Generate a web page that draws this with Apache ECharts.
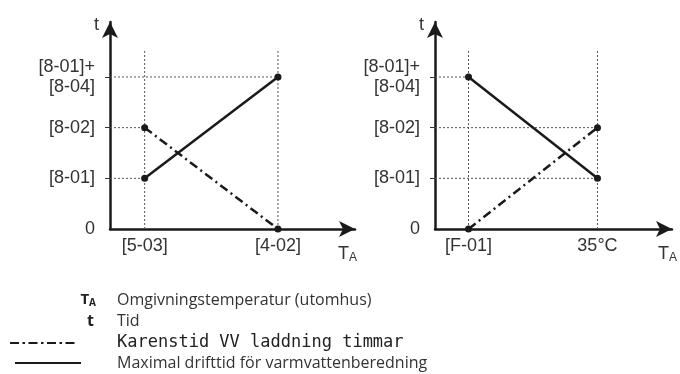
<!DOCTYPE html>
<html>
<head>
<meta charset="utf-8">
<script src="https://cdn.jsdelivr.net/npm/echarts@6/dist/echarts.min.js"></script>
<style>
html,body{margin:0;padding:0;background:#fff;}
#chart{width:680px;height:374px;}
</style>
</head>
<body>
<div id="chart"></div>
<script>
// ---- data ----
const leftCategories = ['[5-03]', '[4-02]'];
const rightCategories = ['[F-01]', '35°C'];
const yTickLabels = ['0', '[8-01]', '[8-02]', '[8-01]+\n[8-04]'];
const leftMaxRun = [1, 3];    // Maximal drifttid
const leftDelay = [2, 0];     // Karenstid
const rightMaxRun = [3, 1];
const rightDelay = [0, 2];
const legendSymbols = ['T', 't'];
const legendTexts = ['Omgivningstemperatur (utomhus)', 'Tid', 'Karenstid VV laddning timmar', 'Maximal drifttid för varmvattenberedning'];

// ---- layout ----
const X_MIN = 0.74, X_MAX = 2.578, Y_MAX = 4.085, GUIDE_TOP = 3.53;
const INK = '#1a1a1a', TXT = '#333';
const labelFont = 'Liberation Sans, Arial, sans-serif';
const dashDot = [9, 4, 2, 4];

function xAxisFor(idx, cats, gap) {
  return {
    type: 'value', gridIndex: idx, min: X_MIN, max: X_MAX,
    splitLine: {show: false},
    axisTick: {show: false},
    axisLine: {show: true, onZero: false, symbol: ['none', 'arrow'], symbolSize: [12, 16],
      lineStyle: {color: INK, width: 2.5}},
    axisLabel: {customValues: [1, 2], margin: 8, color: TXT, fontSize: 18, fontFamily: labelFont,
      formatter: v => cats[Math.round(v) - 1]},
    name: '{a|T}{b|A}', nameLocation: 'end', nameGap: gap, nameMoveOverlap: false,
    nameTextStyle: {align: 'left', verticalAlign: 'top', padding: [16, 0, 0, 0],
      rich: {
        a: {fontSize: 18, fontFamily: labelFont, color: TXT, lineHeight: 18, verticalAlign: 'top'},
        b: {fontSize: 12, fontFamily: labelFont, color: TXT, lineHeight: 12, verticalAlign: 'top', padding: [7, 0, 0, 0]}
      }}
  };
}
function yAxisFor(idx) {
  return {
    type: 'value', gridIndex: idx, min: 0, max: Y_MAX,
    splitLine: {show: false},
    axisTick: {show: true, customValues: [1, 2, 3], length: 5, lineStyle: {color: TXT, width: 1}},
    axisLine: {show: true, onZero: false, symbol: ['none', 'arrow'], symbolSize: [12, 16],
      lineStyle: {color: INK, width: 2.5}},
    axisLabel: {customValues: [0, 1, 2, 3], margin: 15, color: TXT, fontSize: 18, fontFamily: labelFont,
      lineHeight: 20, formatter: v => yTickLabels[Math.round(v)]},
    name: 't', nameLocation: 'end', nameGap: -3, nameMoveOverlap: false,
    nameTextStyle: {color: TXT, fontSize: 18, fontFamily: labelFont, align: 'right', verticalAlign: 'middle', padding: [0, 11, 0, 0]}
  };
}

function guideSeries(idx, maxRun, delay) {
  const out = [];
  const gStyle = {color: '#555', width: 1, type: [2, 2]};
  const mk = (data) => ({type: 'line', xAxisIndex: idx, yAxisIndex: idx, data, symbol: 'none',
    silent: true, z: 1, lineStyle: gStyle, animation: false});
  [1, 2].forEach(x => out.push(mk([[x, 0], [x, GUIDE_TOP]])));
  [maxRun, delay].forEach(vals => vals.forEach((v, i) => {
    if (v > 0) out.push(mk([[X_MIN, v], [i + 1, v]]));
  }));
  return out;
}
function dataSeries(idx, maxRun, delay) {
  const common = {type: 'line', xAxisIndex: idx, yAxisIndex: idx, symbol: 'circle', symbolSize: 7,
    itemStyle: {color: INK}, z: 5, animation: false};
  return [
    Object.assign({name: legendTexts[3], data: maxRun.map((v, i) => [i + 1, v]),
      lineStyle: {color: INK, width: 2.5}}, common),
    Object.assign({name: legendTexts[2], data: delay.map((v, i) => [i + 1, v]),
      lineStyle: {color: INK, width: 2.5, type: dashDot}}, common)
  ];
}

const descFont = 'Open Sans, sans-serif';
const rowsY = [300, 321, 343, 363];
const graphics = [
  {type: 'text', x: 96, y: rowsY[0], style: {text: '{a|T}{b|A}', align: 'right', verticalAlign: 'middle',
    rich: {a: {fontSize: 15, fontWeight: 'bold', fontFamily: descFont, fill: '#222', lineHeight: 15, verticalAlign: 'top'},
           b: {fontSize: 10, fontWeight: 'bold', fontFamily: descFont, fill: '#222', lineHeight: 10, verticalAlign: 'top', padding: [6, 0, 0, 0]}}}},
  {type: 'text', x: 94, y: rowsY[1], style: {text: legendSymbols[1], align: 'right', verticalAlign: 'middle',
    font: 'bold 16px ' + descFont, fill: '#222'}},
  {type: 'line', shape: {x1: 10, y1: rowsY[2], x2: 76, y2: rowsY[2]}, style: {stroke: INK, lineWidth: 2, lineDash: [9, 3.5, 2.5, 3.5]}},
  {type: 'line', shape: {x1: 15, y1: rowsY[3], x2: 81, y2: rowsY[3]}, style: {stroke: INK, lineWidth: 2}},
  {type: 'text', x: 117, y: rowsY[0], style: {text: legendTexts[0], verticalAlign: 'middle', font: '16px ' + descFont, fill: TXT}},
  {type: 'text', x: 117, y: rowsY[1], style: {text: legendTexts[1], verticalAlign: 'middle', font: '16px ' + descFont, fill: TXT}},
  {type: 'text', x: 117, y: rowsY[2], style: {text: legendTexts[2], verticalAlign: 'middle', font: '17px DejaVu Sans Mono, monospace', fill: '#222'}},
  {type: 'text', x: 117, y: rowsY[3], style: {text: legendTexts[3], verticalAlign: 'middle', font: '16px ' + descFont, fill: TXT}}
];

const chart = echarts.init(document.getElementById('chart'), null, {renderer: 'canvas'});
chart.setOption({
  animation: false,
  backgroundColor: '#fff',
  grid: [
    {left: 110, top: 22, width: 245, height: 207, containLabel: false},
    {left: 435, top: 22, width: 245, height: 207, containLabel: false}
  ],
  xAxis: [xAxisFor(0, leftCategories, -17), xAxisFor(1, rightCategories, -14)],
  yAxis: [yAxisFor(0), yAxisFor(1)],
  series: [].concat(
    guideSeries(0, leftMaxRun, leftDelay), guideSeries(1, rightMaxRun, rightDelay),
    dataSeries(0, leftMaxRun, leftDelay), dataSeries(1, rightMaxRun, rightDelay)
  ),
  graphic: graphics
});
</script>
</body>
</html>
